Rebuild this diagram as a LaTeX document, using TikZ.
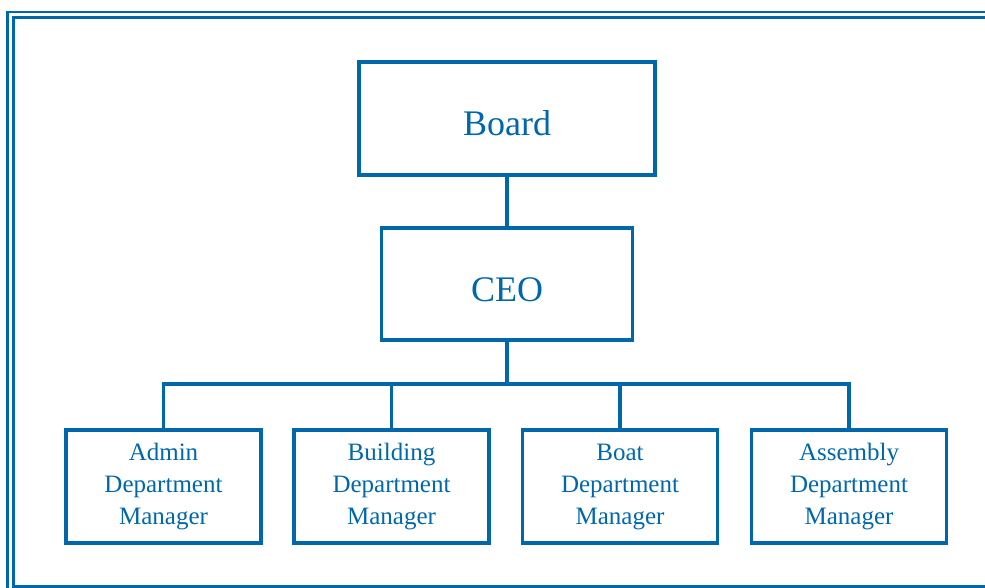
\documentclass[tikz,border=0pt]{standalone}
\usepackage{fontspec}
\setmainfont{Liberation Serif}
\definecolor{chartblue}{RGB}{0,104,170}
\begin{document}
\begin{tikzpicture}[x=1pt,y=-1pt,
  box/.style={draw=chartblue, line width=3.2pt, text=chartblue, rectangle, inner sep=0pt},
  topbox/.style={box, font=\fontsize{36}{40}\selectfont, text height=34pt, text depth=0pt},
  deptbox/.style={box, minimum width=195pt, minimum height=113pt, align=center,
    font=\fontsize{25}{32}\selectfont},
  link/.style={draw=chartblue, line width=3.2pt}]
  \useasboundingbox (0,0) rectangle (985,588);
  \clip (0,0) rectangle (985,588);
  % double frame around the chart
  \draw[chartblue, line width=2.8pt] (7.5,12) rectangle (997,593);
  \draw[chartblue, line width=3.2pt] (13.5,17.5) rectangle (991,586.5);
  % nodes
  \node[topbox, minimum width=296pt, minimum height=113pt] (board) at (507,118.5) {Board};
  \node[topbox, minimum width=251pt, minimum height=112pt] (ceo) at (507,284) {CEO};
  \node[deptbox] (admin) at (163.5,486.5) {Admin\\Department\\Manager};
  \node[deptbox] (building) at (391.5,486.5) {Building\\Department\\Manager};
  \node[deptbox] (boat) at (620,486.5) {\vphantom{d}Boat\\Department\\Manager};
  \node[deptbox] (assembly) at (849,486.5) {Assembly\\Department\\Manager};
  % connectors
  \coordinate (bus) at (507,384);
  \draw[link] (board.south) -- (ceo.north);
  \draw[link] (ceo.south) -- (bus);
  \draw[link] (admin.north) |- (bus) -| (assembly.north);
  \draw[link] (building.north) -- (building.north |- bus);
  \draw[link] (boat.north) -- (boat.north |- bus);
\end{tikzpicture}
\end{document}
